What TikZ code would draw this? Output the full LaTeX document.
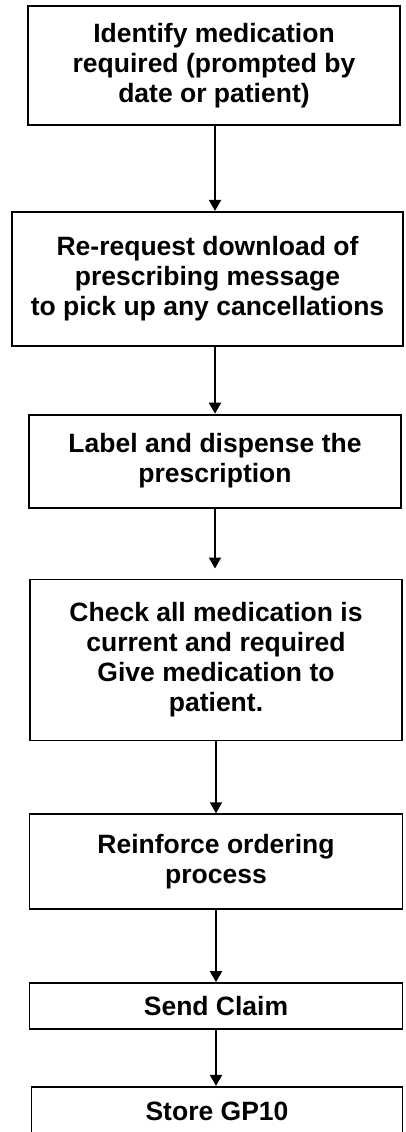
\documentclass[tikz,border=0pt]{standalone}
\usepackage{fontspec}
\setmainfont{Liberation Sans}
\usetikzlibrary{arrows.meta,positioning}

\begin{document}
\begin{tikzpicture}[
  x=1pt,y=-1pt,
  stepbox/.style={rectangle,draw=black,line width=1.8pt,minimum width=372pt,
                  align=center,inner sep=0pt,font=\fontsize{26.5}{30}\selectfont\bfseries},
  arrow/.style={-{Triangle[length=11pt,width=12pt]},line width=2pt},
]
\useasboundingbox (0,0) rectangle (405,1132);
\clip (0,0) rectangle (405,1132);
\node[stepbox, minimum height=119pt] at (214,65.5) (idt)
  {Identify medication\\required (prompted by\\date or patient)};
\node[stepbox, minimum height=134pt, minimum width=391pt, below=85pt of idt, xshift=-6.5pt] (rereq)
  {Re-request download of\\prescribing message\\to pick up any cancellations};
\node[stepbox, minimum height=93pt,  below=67pt of rereq, xshift=7.5pt] (label)
  {Label and dispense the\\prescription};
\node[stepbox, minimum height=161pt, below=70pt of label, xshift=1pt] (check)
  {Check all medication is\\current and required\\Give medication to\\patient.};
\node[stepbox, minimum height=95pt,  minimum width=373pt, below=72pt of check] (reinf)
  {Reinforce ordering\\process};
\node[stepbox, minimum height=46pt,  minimum width=373pt, below=72pt of reinf] (claim) {Send Claim};
\node[stepbox, minimum height=50pt,  minimum width=371pt, below=56pt of claim, xshift=1pt] (store) {Store GP10};
% connectors
\draw[arrow] (idt.south -| label.north) -- (rereq.north -| label.north);
\draw[arrow] (rereq.south -| label.north) -- (label.north);
\draw[arrow, shorten >=10pt] (label.south) -- (label.south |- check.north);
\draw[arrow] (check.south) -- (check.south |- reinf.north);
\draw[arrow] (reinf.south) -- (reinf.south |- claim.north);
\draw[arrow] (claim.south) -- (claim.south |- store.north);
\end{tikzpicture}
\end{document}
